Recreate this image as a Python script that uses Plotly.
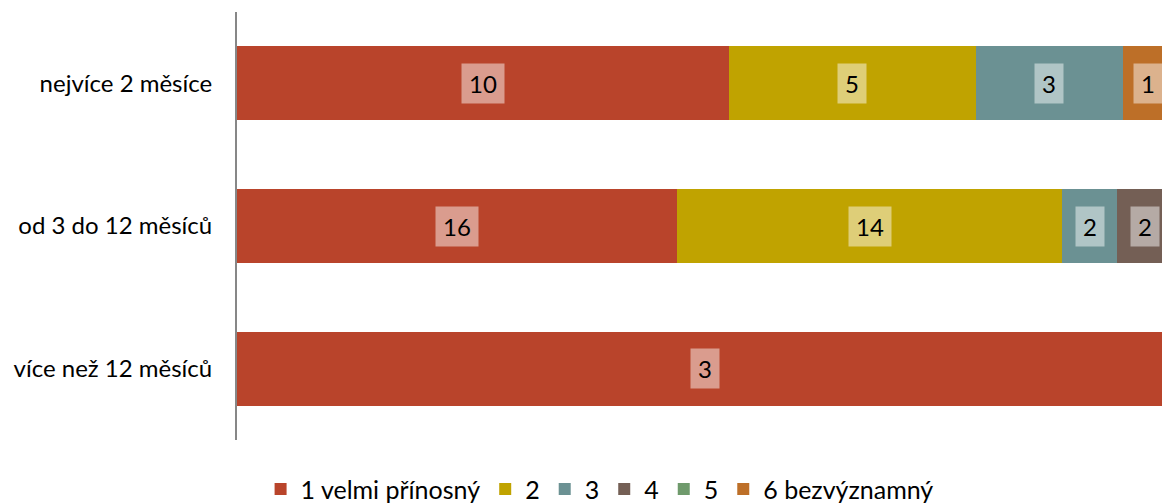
import plotly.graph_objects as go

categories = ["nejvíce 2 měsíce", "od 3 do 12 měsíců", "více než 12 měsíců"]
series_names = ["1 velmi přínosný", "2", "3", "4", "5", "6 bezvýznamný"]
s1 = [10, 16, 3]
s2 = [5, 14, 0]
s3 = [3, 2, 0]
s4 = [0, 2, 0]
s5 = [0, 0, 0]
s6 = [1, 0, 0]
series_values = [s1, s2, s3, s4, s5, s6]
colors = ["#B9442B", "#C0A300", "#6B9193", "#745F55", "#6F9A6C", "#BD6F28"]

FONT = "Lato, Calibri, Carlito, sans-serif"

fig = go.Figure()
for name, vals, col in zip(series_names, series_values, colors):
    fig.add_trace(go.Bar(
        y=categories, x=vals, name=name, orientation="h",
        marker=dict(color=col, line=dict(width=0)),
    ))

totals = [sum(v[i] for v in series_values) for i in range(len(categories))]
annotations = []
for i, cat in enumerate(categories):
    cum = 0
    for vals in series_values:
        v = vals[i]
        if v > 0:
            mid = (cum + v / 2) / totals[i]
            txt = str(v)
            annotations.append(dict(
                x=mid, y=cat, xref="x", yref="y", text=txt, showarrow=False,
                font=dict(family=FONT, size=24, color="#000000"),
                bgcolor="rgba(255,255,255,0.47)", borderpad=4,
                width=14 * len(txt) + 6, height=31,
                xanchor="center", yanchor="middle",
            ))
        cum += v

fig.update_layout(
    width=1162, height=504,
    barmode="stack", barnorm="fraction", bargap=0.48,
    plot_bgcolor="white", paper_bgcolor="white",
    margin=dict(l=237, r=0, t=12, b=64, autoexpand=False),
    font=dict(family=FONT, size=24, color="#000000"),
    showlegend=True,
    legend=dict(orientation="h", xref="container", x=0.516, xanchor="center",
                y=-0.115, yanchor="middle",
                font=dict(family=FONT, size=25), traceorder="normal"),
    annotations=annotations,
)
fig.update_xaxes(range=[0, 0.9888], showgrid=False, showticklabels=False, zeroline=False,
                 showline=False, fixedrange=True)
fig.update_yaxes(categoryorder="array", categoryarray=categories, autorange="reversed",
                 showgrid=False, showline=True, linecolor="#878787", linewidth=2,
                 ticks="", ticklabelstandoff=18, tickfont=dict(family=FONT, size=24))

fig.write_html(
    "out.html",
    config={"displayModeBar": False},
    post_script="document.body.style.margin='0';document.body.style.overflow='hidden';",
)
